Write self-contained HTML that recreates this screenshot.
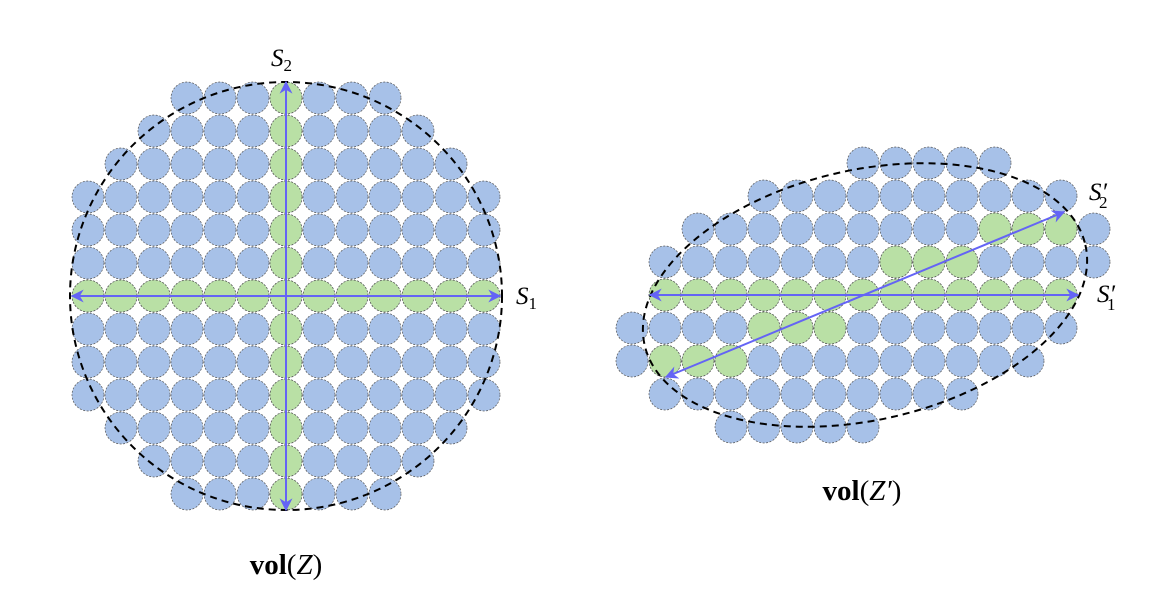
<!DOCTYPE html>
<html><head><meta charset="utf-8"><style>
html,body{margin:0;padding:0;background:#fff;}
svg{display:block;}
text{font-family:"Liberation Serif",serif;fill:#000;}
</style></head><body>
<svg width="1151" height="597" viewBox="0 0 1151 597" xmlns="http://www.w3.org/2000/svg">
<defs>
<pattern id="bL" patternUnits="userSpaceOnUse" x="71.5" y="81.5" width="33" height="33">
<circle cx="16.5" cy="16.5" r="16" fill="#a7c1e8" stroke="#555" stroke-width="0.7" stroke-dasharray="2,1.5"/></pattern>
<pattern id="gL" patternUnits="userSpaceOnUse" x="71.5" y="81.5" width="33" height="33">
<circle cx="16.5" cy="16.5" r="16" fill="#b9e0a5" stroke="#555" stroke-width="0.7" stroke-dasharray="2,1.5"/></pattern>
<pattern id="bR" patternUnits="userSpaceOnUse" x="615.5" y="146.5" width="33" height="33">
<circle cx="16.5" cy="16.5" r="16" fill="#a7c1e8" stroke="#555" stroke-width="0.7" stroke-dasharray="2,1.5"/></pattern>
<pattern id="gR" patternUnits="userSpaceOnUse" x="615.5" y="146.5" width="33" height="33">
<circle cx="16.5" cy="16.5" r="16" fill="#b9e0a5" stroke="#555" stroke-width="0.7" stroke-dasharray="2,1.5"/></pattern>
<marker id="ah" viewBox="0 0 10 10" refX="9" refY="5" markerWidth="13" markerHeight="13" orient="auto-start-reverse" markerUnits="userSpaceOnUse">
<path d="M0,0 L10,5 L0,10 L3,5 Z" fill="#6464f5"/></marker>
</defs>

<!-- left grid -->
<rect x="170.5" y="81.5" width="231" height="33" fill="url(#bL)"/>
<rect x="137.5" y="114.5" width="297" height="33" fill="url(#bL)"/>
<rect x="104.5" y="147.5" width="363" height="33" fill="url(#bL)"/>
<rect x="71.5" y="180.5" width="429" height="231" fill="url(#bL)"/>
<rect x="104.5" y="411.5" width="363" height="33" fill="url(#bL)"/>
<rect x="137.5" y="444.5" width="297" height="33" fill="url(#bL)"/>
<rect x="170.5" y="477.5" width="231" height="33" fill="url(#bL)"/>
<rect x="269.5" y="81.5" width="33" height="429" fill="url(#gL)"/>
<rect x="71.5" y="279.5" width="429" height="33" fill="url(#gL)"/>
<ellipse cx="286" cy="296" rx="216" ry="214" fill="none" stroke="#000" stroke-width="2" stroke-dasharray="7,5"/>
<line x1="72" y1="296" x2="500" y2="296" stroke="#6464f5" stroke-width="2" marker-start="url(#ah)" marker-end="url(#ah)"/>
<line x1="286" y1="82" x2="286" y2="510" stroke="#6464f5" stroke-width="2" marker-start="url(#ah)" marker-end="url(#ah)"/>
<text x="271" y="66" font-size="25" font-style="italic">S<tspan font-size="17" font-style="normal" dy="5">2</tspan></text>
<text x="516" y="304" font-size="25" font-style="italic">S<tspan font-size="17" font-style="normal" dy="5">1</tspan></text>
<text x="286" y="574" font-size="29" text-anchor="middle"><tspan font-weight="bold">vol</tspan>(<tspan font-style="italic">Z</tspan>)</text>

<!-- right grid -->
<rect x="846.5" y="146.5" width="165" height="33" fill="url(#bR)"/>
<rect x="747.5" y="179.5" width="330" height="33" fill="url(#bR)"/>
<rect x="681.5" y="212.5" width="429" height="33" fill="url(#bR)"/>
<rect x="648.5" y="245.5" width="462" height="33" fill="url(#bR)"/>
<rect x="648.5" y="278.5" width="429" height="33" fill="url(#bR)"/>
<rect x="615.5" y="311.5" width="462" height="33" fill="url(#bR)"/>
<rect x="615.5" y="344.5" width="429" height="33" fill="url(#bR)"/>
<rect x="648.5" y="377.5" width="330" height="33" fill="url(#bR)"/>
<rect x="714.5" y="410.5" width="165" height="33" fill="url(#bR)"/>
<rect x="978.5" y="212.5" width="99" height="33" fill="url(#gR)"/>
<rect x="879.5" y="245.5" width="99" height="33" fill="url(#gR)"/>
<rect x="648.5" y="278.5" width="429" height="33" fill="url(#gR)"/>
<rect x="747.5" y="311.5" width="99" height="33" fill="url(#gR)"/>
<rect x="648.5" y="344.5" width="99" height="33" fill="url(#gR)"/>
<ellipse cx="865" cy="295" rx="226" ry="125" transform="rotate(-12.8 865 295)" fill="none" stroke="#000" stroke-width="2" stroke-dasharray="7,5"/>
<line x1="650" y1="295" x2="1078" y2="295" stroke="#6464f5" stroke-width="2" marker-start="url(#ah)" marker-end="url(#ah)"/>
<line x1="666" y1="377" x2="1064" y2="212" stroke="#6464f5" stroke-width="2" marker-start="url(#ah)" marker-end="url(#ah)"/>
<text x="1089" y="200" font-size="25" font-style="italic">S′<tspan font-size="17" font-style="normal" dx="-8" dy="8">2</tspan></text>
<text x="1097" y="302" font-size="25" font-style="italic">S′<tspan font-size="17" font-style="normal" dx="-8" dy="8">1</tspan></text>
<text x="862" y="500" font-size="29" text-anchor="middle"><tspan font-weight="bold">vol</tspan>(<tspan font-style="italic">Z′</tspan>)</text>
</svg>
</body></html>
